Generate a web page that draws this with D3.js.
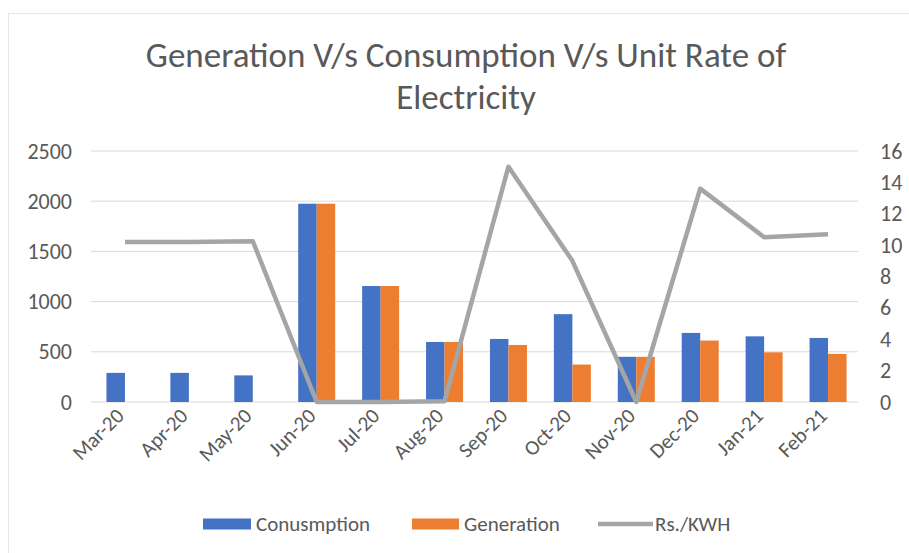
<!DOCTYPE html>
<html>
<head>
<meta charset="utf-8">
<script src="https://cdn.jsdelivr.net/npm/d3@7"></script>
<style>
  body { margin: 0; background: #fff; }
  text { font-family: Carlito, "Liberation Sans Narrow", "Open Sans", sans-serif; fill: #595959; }
</style>
</head>
<body>
<div id="chart"></div>
<script>
// data
var months = ["Mar-20", "Apr-20", "May-20", "Jun-20", "Jul-20", "Aug-20",
              "Sep-20", "Oct-20", "Nov-20", "Dec-20", "Jan-21", "Feb-21"];
var consumption = [290, 290, 265, 1975, 1155, 598, 628, 875, 450, 688, 654, 638];
var generation = [0, 0, 0, 1975, 1155, 598, 568, 373, 450, 612, 495, 479];
var rate = [10.2, 10.2, 10.25, 0, 0, 0.05, 15, 9, 0, 13.6, 10.5, 10.7];
var leftTicks = [0, 500, 1000, 1500, 2000, 2500];
var rightTicks = [0, 2, 4, 6, 8, 10, 12, 14, 16];

var svgWidth = 909;
var svgHeight = 553;

var margin = { top: 151, right: 49, bottom: 151, left: 93 };
var chartWidth = svgWidth - margin.left - margin.right;
var chartHeight = svgHeight - margin.top - margin.bottom;

var svg = d3.select("#chart")
    .append("svg")
    .attr("width", svgWidth)
    .attr("height", svgHeight);

// faint chart frame
svg.append("rect")
    .attr("x", 8.5).attr("y", 13.5)
    .attr("width", 920).attr("height", 560)
    .attr("fill", "none")
    .attr("stroke", "#e8e8e8");

// title
svg.append("text")
    .attr("x", 466).attr("y", 67)
    .attr("text-anchor", "middle")
    .style("font-size", "35px")
    .text("Generation V/s Consumption V/s Unit Rate of");
svg.append("text")
    .attr("x", 466).attr("y", 109)
    .attr("text-anchor", "middle")
    .style("font-size", "35px")
    .text("Electricity");

var chartGroup = svg.append("g")
    .attr("transform", `translate(${margin.left}, ${margin.top})`);

// scales
var x = d3.scaleBand().domain(months).range([0, chartWidth]);
var xInner = d3.scaleBand().domain(["c", "g"]).range([0, 37]);
var yLeft = d3.scaleLinear().domain([0, 2500]).range([chartHeight, 0]);
var yRight = d3.scaleLinear().domain([0, 16]).range([chartHeight, 0]);

// gridlines
chartGroup.append("g")
    .selectAll("line")
    .data(leftTicks)
    .enter()
    .append("line")
    .attr("x1", -2).attr("x2", chartWidth - 2)
    .attr("y1", d => yLeft(d)).attr("y2", d => yLeft(d))
    .attr("stroke", "#d9d9d9")
    .attr("stroke-width", 1);

// axes
var leftAxis = d3.axisLeft(yLeft).tickValues(leftTicks).tickFormat(d3.format("d"))
    .tickSize(0).tickPadding(21);
var rightAxis = d3.axisRight(yRight).tickValues(rightTicks).tickSize(0).tickPadding(20);
var bottomAxis = d3.axisBottom(x).tickSize(0);

var gl = chartGroup.append("g").call(leftAxis);
gl.select(".domain").remove();
gl.selectAll("text").style("font-size", "22px");

var gr = chartGroup.append("g")
    .attr("transform", `translate(${chartWidth}, 0)`)
    .call(rightAxis);
gr.select(".domain").remove();
gr.selectAll("text").style("font-size", "22px");

var gb = chartGroup.append("g")
    .attr("transform", `translate(0, ${chartHeight})`)
    .call(bottomAxis);
gb.select(".domain").remove();
gb.selectAll("text")
    .style("font-size", "21px")
    .attr("text-anchor", "end")
    .attr("y", 0)
    .attr("dy", "0.35em")
    .attr("transform", "translate(-5, 10) rotate(-45)");

// bars
var rows = months.map((m, i) => ({ month: m, c: consumption[i], g: generation[i] }));
var groups = chartGroup.append("g")
    .selectAll("g")
    .data(rows)
    .enter()
    .append("g")
    .attr("transform", d => `translate(${x(d.month) + x.bandwidth() / 2 - 18.5}, 0)`);

groups.append("rect")
    .attr("x", xInner("c"))
    .attr("width", xInner.bandwidth())
    .attr("y", d => yLeft(d.c))
    .attr("height", d => chartHeight - yLeft(d.c))
    .attr("fill", "#4472C4");

groups.append("rect")
    .attr("x", xInner("g"))
    .attr("width", xInner.bandwidth())
    .attr("y", d => yLeft(d.g))
    .attr("height", d => chartHeight - yLeft(d.g))
    .attr("fill", "#ED7D31");

// rate line
var line = d3.line()
    .x((d, i) => x(months[i]) + x.bandwidth() / 2)
    .y(d => yRight(d));

chartGroup.append("path")
    .datum(rate)
    .attr("d", line)
    .attr("fill", "none")
    .attr("stroke", "#A5A5A5")
    .attr("stroke-width", 4.5)
    .attr("stroke-linejoin", "round");

// legend
var legend = svg.append("g").attr("transform", "translate(0, 524)");
legend.append("rect").attr("x", 203).attr("y", -5.5).attr("width", 48).attr("height", 11).attr("fill", "#4472C4");
legend.append("text").attr("x", 256).attr("y", 0).attr("dy", "0.35em").style("font-size", "21px").text("Conusmption");
legend.append("rect").attr("x", 412).attr("y", -5.5).attr("width", 47).attr("height", 11).attr("fill", "#ED7D31");
legend.append("text").attr("x", 464).attr("y", 0).attr("dy", "0.35em").style("font-size", "21px").text("Generation");
legend.append("line").attr("x1", 598).attr("x2", 653).attr("y1", 0).attr("y2", 0)
    .attr("stroke", "#A5A5A5").attr("stroke-width", 4.5);
legend.append("text").attr("x", 655).attr("y", 0).attr("dy", "0.35em").style("font-size", "21px").text("Rs./KWH");
</script>
</body>
</html>
